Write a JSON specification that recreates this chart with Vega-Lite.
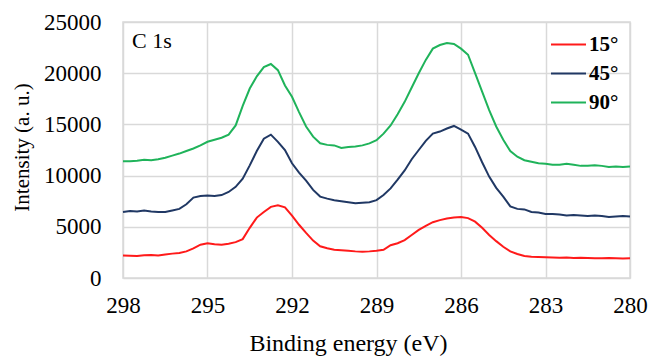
{
  "$schema": "https://vega.github.io/schema/vega-lite/v6.json",
  "width": 507,
  "height": 256,
  "autosize": {"type": "none"},
  "padding": {"left": 123, "top": 22, "right": 18, "bottom": 82},
  "background": "white",
  "config": {
    "view": {"stroke": "#d9d9d9", "strokeWidth": 1.5},
    "font": "Liberation Serif",
    "axis": {"labelFont": "Liberation Serif", "titleFont": "Liberation Serif", "labelFlush": false},
    "legend": {"labelFont": "Liberation Serif"},
    "text": {"font": "Liberation Serif"}
  },
  "datasets": {
    "s15": [
      {"E":298,"I":2200},{"E":297.75,"I":2180},{"E":297.5,"I":2150},{"E":297.25,"I":2230},{"E":297,"I":2250},{"E":296.75,"I":2200},{"E":296.5,"I":2300},{"E":296.25,"I":2380},{"E":296,"I":2450},{"E":295.75,"I":2600},{"E":295.5,"I":2900},{"E":295.25,"I":3250},{"E":295,"I":3400},{"E":294.75,"I":3300},{"E":294.5,"I":3250},{"E":294.25,"I":3350},{"E":294,"I":3500},{"E":293.75,"I":3800},{"E":293.5,"I":4900},{"E":293.25,"I":5900},{"E":293,"I":6450},{"E":292.75,"I":6950},{"E":292.5,"I":7100},{"E":292.25,"I":6900},{"E":292,"I":6100},{"E":291.75,"I":5200},{"E":291.5,"I":4400},{"E":291.25,"I":3650},{"E":291,"I":3100},{"E":290.75,"I":2900},{"E":290.5,"I":2750},{"E":290.25,"I":2700},{"E":290,"I":2650},{"E":289.75,"I":2600},{"E":289.5,"I":2570},{"E":289.25,"I":2600},{"E":289,"I":2650},{"E":288.75,"I":2750},{"E":288.5,"I":3200},{"E":288.25,"I":3400},{"E":288,"I":3700},{"E":287.75,"I":4200},{"E":287.5,"I":4700},{"E":287.25,"I":5100},{"E":287,"I":5450},{"E":286.75,"I":5650},{"E":286.5,"I":5800},{"E":286.25,"I":5900},{"E":286,"I":5950},{"E":285.75,"I":5850},{"E":285.5,"I":5500},{"E":285.25,"I":4900},{"E":285,"I":4200},{"E":284.75,"I":3600},{"E":284.5,"I":3050},{"E":284.25,"I":2600},{"E":284,"I":2350},{"E":283.75,"I":2150},{"E":283.5,"I":2080},{"E":283.25,"I":2050},{"E":283,"I":2020},{"E":282.75,"I":2000},{"E":282.5,"I":1980},{"E":282.25,"I":1990},{"E":282,"I":1950},{"E":281.75,"I":1970},{"E":281.5,"I":1960},{"E":281.25,"I":1920},{"E":281,"I":1930},{"E":280.75,"I":1960},{"E":280.5,"I":1940},{"E":280.25,"I":1910},{"E":280,"I":1920}
    ],
    "s45": [
      {"E":298,"I":6450},{"E":297.75,"I":6550},{"E":297.5,"I":6500},{"E":297.25,"I":6600},{"E":297,"I":6500},{"E":296.75,"I":6450},{"E":296.5,"I":6450},{"E":296.25,"I":6600},{"E":296,"I":6750},{"E":295.75,"I":7200},{"E":295.5,"I":7850},{"E":295.25,"I":8000},{"E":295,"I":8050},{"E":294.75,"I":8000},{"E":294.5,"I":8100},{"E":294.25,"I":8400},{"E":294,"I":8900},{"E":293.75,"I":9700},{"E":293.5,"I":11000},{"E":293.25,"I":12400},{"E":293,"I":13600},{"E":292.75,"I":14000},{"E":292.5,"I":13300},{"E":292.25,"I":12500},{"E":292,"I":11200},{"E":291.75,"I":10300},{"E":291.5,"I":9500},{"E":291.25,"I":8600},{"E":291,"I":7950},{"E":290.75,"I":7750},{"E":290.5,"I":7600},{"E":290.25,"I":7500},{"E":290,"I":7400},{"E":289.75,"I":7300},{"E":289.5,"I":7350},{"E":289.25,"I":7400},{"E":289,"I":7600},{"E":288.75,"I":8100},{"E":288.5,"I":8750},{"E":288.25,"I":9600},{"E":288,"I":10500},{"E":287.75,"I":11600},{"E":287.5,"I":12500},{"E":287.25,"I":13400},{"E":287,"I":14100},{"E":286.75,"I":14300},{"E":286.5,"I":14600},{"E":286.25,"I":14850},{"E":286,"I":14500},{"E":285.75,"I":14100},{"E":285.5,"I":12800},{"E":285.25,"I":11300},{"E":285,"I":9900},{"E":284.75,"I":8800},{"E":284.5,"I":7950},{"E":284.25,"I":7000},{"E":284,"I":6750},{"E":283.75,"I":6700},{"E":283.5,"I":6450},{"E":283.25,"I":6400},{"E":283,"I":6250},{"E":282.75,"I":6250},{"E":282.5,"I":6200},{"E":282.25,"I":6100},{"E":282,"I":6150},{"E":281.75,"I":6100},{"E":281.5,"I":6050},{"E":281.25,"I":6100},{"E":281,"I":6050},{"E":280.75,"I":5950},{"E":280.5,"I":6000},{"E":280.25,"I":6050},{"E":280,"I":6000}
    ],
    "s90": [
      {"E":298,"I":11400},{"E":297.75,"I":11400},{"E":297.5,"I":11450},{"E":297.25,"I":11550},{"E":297,"I":11500},{"E":296.75,"I":11600},{"E":296.5,"I":11750},{"E":296.25,"I":11950},{"E":296,"I":12150},{"E":295.75,"I":12400},{"E":295.5,"I":12650},{"E":295.25,"I":12950},{"E":295,"I":13300},{"E":294.75,"I":13500},{"E":294.5,"I":13700},{"E":294.25,"I":14000},{"E":294,"I":14900},{"E":293.75,"I":16800},{"E":293.5,"I":18500},{"E":293.25,"I":19700},{"E":293,"I":20600},{"E":292.75,"I":20900},{"E":292.5,"I":20300},{"E":292.25,"I":18800},{"E":292,"I":17700},{"E":291.75,"I":16200},{"E":291.5,"I":14800},{"E":291.25,"I":13800},{"E":291,"I":13150},{"E":290.75,"I":13000},{"E":290.5,"I":12950},{"E":290.25,"I":12700},{"E":290,"I":12800},{"E":289.75,"I":12850},{"E":289.5,"I":12950},{"E":289.25,"I":13150},{"E":289,"I":13450},{"E":288.75,"I":14100},{"E":288.5,"I":14900},{"E":288.25,"I":16000},{"E":288,"I":17200},{"E":287.75,"I":18600},{"E":287.5,"I":20000},{"E":287.25,"I":21300},{"E":287,"I":22400},{"E":286.75,"I":22750},{"E":286.5,"I":22950},{"E":286.25,"I":22850},{"E":286,"I":22400},{"E":285.75,"I":21800},{"E":285.5,"I":20000},{"E":285.25,"I":18200},{"E":285,"I":16400},{"E":284.75,"I":14800},{"E":284.5,"I":13500},{"E":284.25,"I":12400},{"E":284,"I":11850},{"E":283.75,"I":11500},{"E":283.5,"I":11350},{"E":283.25,"I":11200},{"E":283,"I":11150},{"E":282.75,"I":11050},{"E":282.5,"I":11050},{"E":282.25,"I":11150},{"E":282,"I":11050},{"E":281.75,"I":10950},{"E":281.5,"I":10950},{"E":281.25,"I":11000},{"E":281,"I":10950},{"E":280.75,"I":10850},{"E":280.5,"I":10900},{"E":280.25,"I":10850},{"E":280,"I":10900}
    ],
    "note": [{"E":297.68,"I":23150,"label":"C 1s"}]
  },
  "layer": [
    {
      "data": {"name": "s15"},
      "transform": [{"calculate": "'15°'", "as": "angle"}],
      "mark": {"type": "line", "strokeWidth": 2},
      "encoding": {
        "x": {"field": "E", "type": "quantitative"},
        "y": {"field": "I", "type": "quantitative"},
        "color": {"field": "angle", "type": "nominal"}
      }
    },
    {
      "data": {"name": "s45"},
      "transform": [{"calculate": "'45°'", "as": "angle"}],
      "mark": {"type": "line", "strokeWidth": 2},
      "encoding": {
        "x": {"field": "E", "type": "quantitative"},
        "y": {"field": "I", "type": "quantitative"},
        "color": {"field": "angle", "type": "nominal"}
      }
    },
    {
      "data": {"name": "s90"},
      "transform": [{"calculate": "'90°'", "as": "angle"}],
      "mark": {"type": "line", "strokeWidth": 2},
      "encoding": {
        "x": {
          "field": "E", "type": "quantitative",
          "scale": {"domain": [298, 280], "nice": false, "zero": false},
          "axis": {
            "values": [298, 295, 292, 289, 286, 283, 280],
            "title": "Binding energy (eV)",
            "titleFont": "Liberation Serif", "titleFontSize": 24, "titleFontWeight": "normal", "titleColor": "#000",
            "titleX": 225, "titleAlign": "center",
            "labelFont": "Liberation Serif", "labelFontSize": 23, "labelColor": "#000", "labelFlush": false,
            "labelPadding": 16, "titlePadding": 14,
            "ticks": false, "domain": false,
            "grid": true, "gridColor": "#d9d9d9", "gridWidth": 1.5
          }
        },
        "y": {
          "field": "I", "type": "quantitative",
          "scale": {"domain": [0, 25000], "nice": false},
          "axis": {
            "values": [0, 5000, 10000, 15000, 20000, 25000],
            "format": "d",
            "title": "Intensity (a. u.)",
            "titleFont": "Liberation Serif", "titleFontSize": 21, "titleFontWeight": "normal", "titleColor": "#000",
            "titleX": -101, "titleY": 125, "titleAngle": -90, "titleAlign": "center", "titleBaseline": "middle",
            "labelFont": "Liberation Serif", "labelFontSize": 23, "labelColor": "#000",
            "labelPadding": 22,
            "ticks": false, "domain": false,
            "grid": true, "gridColor": "#d9d9d9", "gridWidth": 1.5
          }
        },
        "color": {
          "field": "angle", "type": "nominal",
          "scale": {"domain": ["15°", "45°", "90°"], "range": ["#ff1a1a", "#203864", "#1fb35a"]},
          "legend": {
            "orient": "none", "legendX": 427, "legendY": 4,
            "title": null,
            "symbolType": "stroke", "symbolSize": 1225, "symbolStrokeWidth": 2,
            "labelFont": "Liberation Serif", "labelFontSize": 21, "labelFontWeight": "bold", "labelColor": "#000",
            "labelOffset": 2, "rowPadding": -3
          }
        }
      }
    },
    {
      "data": {"name": "note"},
      "mark": {"type": "text", "align": "left", "baseline": "middle", "font": "Liberation Serif", "fontSize": 22, "color": "#000"},
      "encoding": {
        "x": {"field": "E", "type": "quantitative"},
        "y": {"field": "I", "type": "quantitative"},
        "text": {"field": "label"}
      }
    }
  ]
}
